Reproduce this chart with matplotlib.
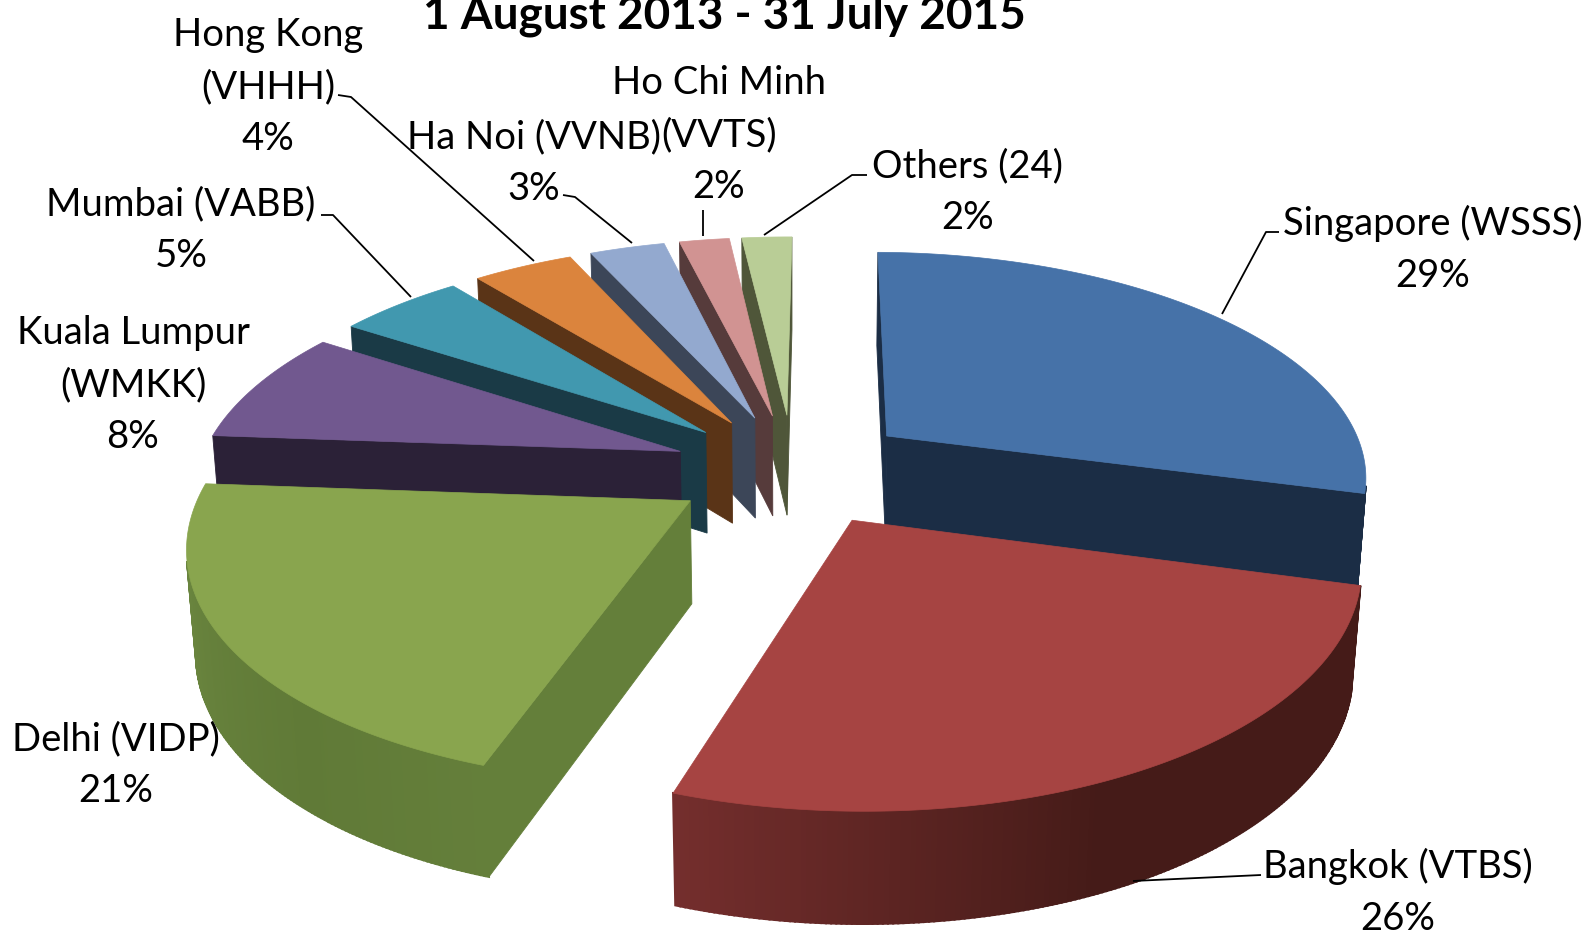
import numpy as np
import matplotlib
matplotlib.use('Agg')
import matplotlib.pyplot as plt
from matplotlib.colors import to_rgb
from matplotlib.patches import Polygon

#### chart data ####
labels = ['Singapore (WSSS)', 'Bangkok (VTBS)', 'Delhi (VIDP)', 'Kuala Lumpur\n(WMKK)', 'Mumbai (VABB)',
          'Hong Kong\n(VHHH)', 'Ha Noi (VVNB)', 'Ho Chi Minh\n(VVTS)', 'Others (24)']
shares = [29, 26, 21, 8, 5, 4, 3, 2, 2]
title = '1 August 2013 - 31 July 2015'

top_colors = ['#4672A8', '#A64442', '#89A54E', '#71588F', '#4198AF', '#DB843D', '#93A9CF', '#D19392', '#B9CD96']
wall_dark = ['#1B2D45', '#451B18', '#607A37', '#2B2137', '#1A3A46', '#5A3417', '#3C4658', '#563B3B', '#4F5639']
wall_light = ['#1B2D45', '#742E2D', '#6E8A42', '#2B2137', '#1A3A46', '#5A3417', '#3C4658', '#563B3B', '#4F5639']

label_pos = [(1433, 249), (1398, 892), (116, 765), (133, 385), (181, 230), (268, 87), (534, 163), (719, 135), (968, 192)]
leaders = [[(1279, 233), (1266, 233), (1222, 315)],
           [(1261, 876), (1133, 882)],
           None,
           None,
           [(321, 216), (333, 216), (411, 298)],
           [(338, 96), (351, 98), (534, 262)],
           [(563, 196), (575, 198), (632, 244)],
           [(703, 211), (703, 237)],
           [(867, 176), (852, 176), (764, 236)]]

# pie projection settings, pixels
cx, cy = 793, 470
rx, ry = 482, 224
persp, persp_z = 0.165, 0.015
explode = 0.25
start_angle = 0.6
depth = 103
font = 'Lato'


def project(x, y, z=0.0):
    s = 1.0 / (1.0 + persp * y + persp_z * z)
    return cx + s * rx * x, cy - s * ry * y + s ** 0.7 * depth * z


def rim(ang, off):
    a = np.radians(ang)
    return off[0] + np.sin(a), off[1] + np.cos(a)


def signed_area(pts):
    pts = np.asarray(pts)
    x, y = pts[:, 0], pts[:, 1]
    return 0.5 * np.sum(x * np.roll(y, -1) - np.roll(x, -1) * y)


def add_face(ax, pts, color, z, lw=0.6):
    # only faces turned towards the viewer get drawn
    if signed_area(pts) < 0:
        ax.add_patch(Polygon(pts, closed=True, fc=color, ec=color, lw=lw, zorder=z))


def wall_color(i, t):
    dark, light = np.array(to_rgb(wall_dark[i])), np.array(to_rgb(wall_light[i]))
    if i == 1:
        mix = np.interp(t, [0, 0.55, 1], [0, 0, 1])
    else:
        mix = np.interp(t, [0, 0.3, 1], [0.3, 0, 1])
    return tuple(dark + (light - dark) * mix)


fig = plt.figure(figsize=(15.94, 9.37), dpi=100)
ax = fig.add_axes([0, 0, 1, 1])
ax.set_xlim(0, 1594)
ax.set_ylim(937, 0)
ax.axis('off')

edges = start_angle + np.cumsum([0] + shares) * 3.6
mids = (edges[:-1] + edges[1:]) / 2
draw_order = np.argsort(-np.cos(np.radians(mids)))

for rank, i in enumerate(draw_order):
    z = 2 + rank * 0.1
    a0, a1, mid = edges[i], edges[i + 1], np.radians(mids[i])
    off = (explode * np.sin(mid), explode * np.cos(mid))
    angs = np.linspace(a0, a1, max(int((a1 - a0) * 2), 4) + 1)

    top_rim = [project(*rim(a, off)) for a in angs]
    bot_rim = [project(*rim(a, off), 1.0) for a in angs]
    apex_top, apex_bot = project(*off), project(*off, 1.0)

    # cut faces
    add_face(ax, [apex_top, top_rim[0], bot_rim[0], apex_bot], wall_color(i, 0.0), z)
    add_face(ax, [top_rim[-1], apex_top, apex_bot, bot_rim[-1]], wall_dark[i], z)
    # outer wall, in strips for the shading
    for j in range(len(angs) - 1):
        quad = [top_rim[j], top_rim[j + 1], bot_rim[j + 1], bot_rim[j]]
        add_face(ax, quad, wall_color(i, j / (len(angs) - 2)), z + 0.01, lw=1.5)
    # top
    ax.add_patch(Polygon([apex_top] + top_rim, closed=True, fc=top_colors[i], ec=top_colors[i],
                         lw=0.5, zorder=z + 0.05))

for lab, share, pos, line in zip(labels, shares, label_pos, leaders):
    ax.text(pos[0], pos[1], f'{lab}\n{share}%', ha='center', va='center', fontsize=27.5, family=font,
            color='black', linespacing=1.55, zorder=5)
    if line:
        xs, ys = zip(*line)
        ax.plot(xs, ys, color='black', lw=1.3, zorder=6, solid_capstyle='butt')

ax.text(724, 16, title, ha='center', va='center', fontsize=33, fontweight='bold', family=font, color='black')

fig.savefig('out.png', dpi=100, facecolor='white')
